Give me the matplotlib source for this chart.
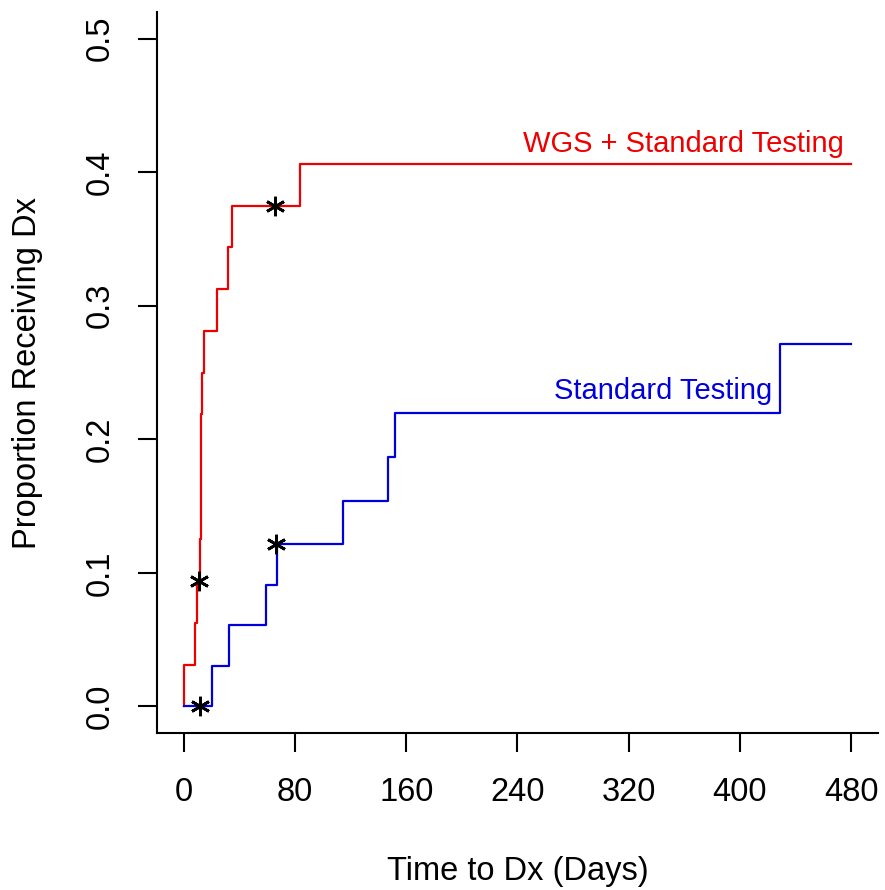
import numpy as np
import matplotlib
matplotlib.use('Agg')
import matplotlib.pyplot as plt

plt.rcParams['font.family'] = ['Liberation Sans', 'DejaVu Sans']

# Curva WGS + pruebas estandar (tiempo en dias, proporcion acumulada)
red_t = [0, 0, 8.4, 9.6, 11.5, 12.4, 13.2, 14.3, 23.9, 31.8, 34.7, 83.7, 480]
red_y = [0, 0.03125, 0.0625, 0.09375, 0.125, 0.21875, 0.25, 0.28125, 0.3125,
         0.34375, 0.375, 0.40625, 0.40625]
red_cens_t = [10.8, 65.3]
red_cens_y = [0.09375, 0.375]

# Curva pruebas estandar
blue_t = [0, 20.6, 32.4, 59.3, 67.0, 114.4, 146.8, 151.9, 428.6, 480]
blue_y = [0, 0.0303, 0.0606, 0.0909, 0.1212, 0.1540, 0.1869, 0.2197, 0.2717, 0.2717]
blue_cens_t = [11.5, 66.5]
blue_cens_y = [0, 0.1212]

xticks = [0, 80, 160, 240, 320, 400, 480]
yticks = [0.0, 0.1, 0.2, 0.3, 0.4, 0.5]

fig = plt.figure(figsize=(8.85, 8.9), dpi=100)
ax = fig.add_axes([0.1774, 0.1764, 0.8146, 0.8101])

ax.plot(red_t, red_y, drawstyle='steps-post', color='#ee0000', lw=1.6)
ax.plot(blue_t, blue_y, drawstyle='steps-post', color='#0000dd', lw=1.6)

# Marcas de censura
ax.plot(red_cens_t, red_cens_y, linestyle='none', marker=(6, 2, 0),
        ms=14, mew=2, color='k')
ax.plot(blue_cens_t, blue_cens_y, linestyle='none', marker=(6, 2, 0),
        ms=14, mew=2, color='k')

# Etiquetas de las curvas
ax.text(475, 0.4215, 'WGS + Standard Testing', color='#ee0000', fontsize=21,
        ha='right', va='center')
ax.text(423, 0.236, 'Standard Testing', color='#0000dd', fontsize=21,
        ha='right', va='center')

ax.set_xlim(-19.2, 499.2)
ax.set_ylim(-0.02, 0.52)
ax.set_xticks(xticks)
ax.set_xticklabels([str(t) for t in xticks])
ax.set_yticks(yticks)
ax.set_yticklabels(['%.1f' % t for t in yticks], rotation=90, va='center')

for s in ['top', 'right']:
    ax.spines[s].set_visible(False)
for s in ['left', 'bottom']:
    ax.spines[s].set_linewidth(1.5)

ax.tick_params(axis='both', length=14, width=1.5, labelsize=23.5)
ax.tick_params(axis='x', pad=18)
ax.tick_params(axis='y', pad=16)

ax.set_xlabel('Time to Dx (Days)', fontsize=23.5, labelpad=34)
ax.set_ylabel('Proportion Receiving Dx', fontsize=23.5, labelpad=30)

fig.savefig('out.png', dpi=100)
